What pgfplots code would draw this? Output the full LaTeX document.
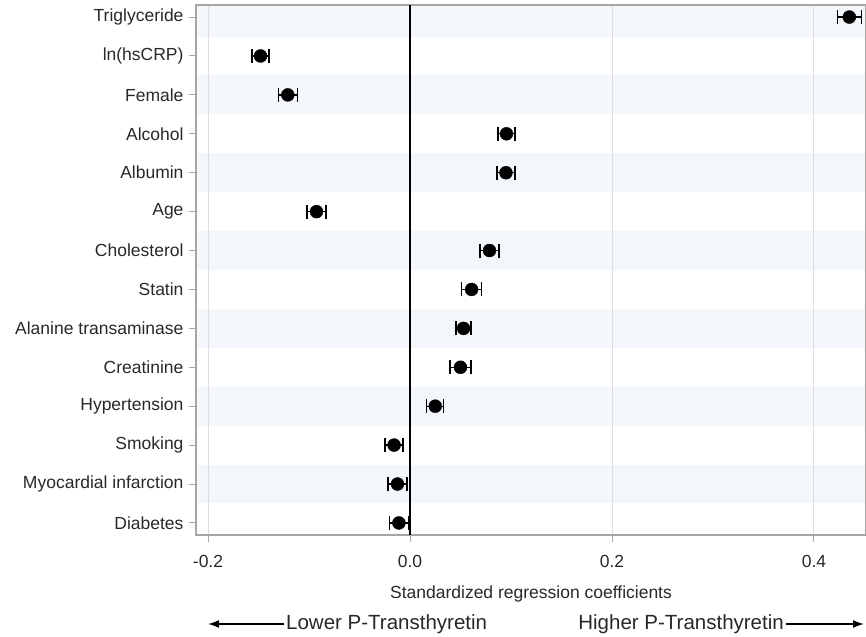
\documentclass[border=0pt]{standalone}
\usepackage{fontspec}
\setmainfont{Liberation Sans}
\usepackage{pgfplots}
\pgfplotsset{compat=1.18}
\usepackage{pgfplotstable}
\usetikzlibrary{arrows.meta}
\definecolor{band}{RGB}{243,246,250}
\definecolor{gridc}{RGB}{222,222,222}
\definecolor{axc}{RGB}{165,165,165}
\definecolor{txt}{RGB}{40,40,40}

\pgfplotstableread{
y x e
14 0.435 0.012
13 -0.148 0.0085
12 -0.121 0.0094
11 0.0955 0.0084
10 0.095 0.009
9 -0.0926 0.0094
8 0.0787 0.0094
7 0.061 0.0099
6 0.053 0.0075
5 0.050 0.0105
4 0.025 0.0085
3 -0.0158 0.0089
2 -0.0124 0.0094
1 -0.011 0.0095
}\coefdata

\begin{document}
\begin{tikzpicture}
\begin{axis}[
  set layers,
  scale only axis, width=670bp, height=530bp,
  xmin=-0.2119, xmax=0.4515, ymin=0.69, ymax=14.31,
  xtick={-0.2,0,0.2,0.4}, xticklabels={-0.2,0.0,0.2,0.4},
  ytick={1,...,14},
  yticklabels={Diabetes,Myocardial infarction,Smoking,Hypertension,Creatinine,Alanine transaminase,Statin,Cholesterol,Age,Albumin,Alcohol,Female,ln(hsCRP),Triglyceride},
  xtick pos=bottom, ytick pos=left,
  tick align=outside, major tick length=7bp,
  tick style={axc, line width=1bp},
  axis line style={axc, line width=1.2bp},
  xmajorgrids, grid style={gridc, line width=1bp},
  tick label style={font=\fontsize{17.5bp}{20bp}\selectfont, text=txt},
  yticklabel style={xshift=-2bp},
  xticklabel style={yshift=-10bp},
  xlabel={Standardized regression coefficients},
  xlabel style={font=\fontsize{17.5bp}{20bp}\selectfont, text=txt, yshift=-11bp},
]
\begin{pgfonlayer}{axis background}
\pgfplotsinvokeforeach{2,4,6,8,10,12}{
  \fill[band] (axis cs:-0.2119,#1-0.5) rectangle (axis cs:0.4515,#1+0.5);
}
\fill[band] (axis cs:-0.2119,13.5) rectangle (axis cs:0.4515,14.31);
\end{pgfonlayer}
\draw[black, line width=1.5bp] (axis cs:0,0.69) -- (axis cs:0,14.31);
\addplot[only marks, mark=*, mark size=6.5bp, black,
  error bars/.cd, x dir=both, x explicit, error mark=|,
  error bar style={line width=1.3bp, black},
  error mark options={black, line width=1.3bp, mark size=7bp}]
  table[x=x, y=y, x error=e]{\coefdata};
\end{axis}
\draw[line width=1.6bp, -{Latex[length=11bp,width=8bp]}] ([shift={(88bp,-89bp)}]current axis.south west) -- ([shift={(12bp,-89bp)}]current axis.south west);
\node[anchor=west, inner sep=0pt, text=txt, font=\fontsize{20.5bp}{23bp}\selectfont] at ([shift={(90bp,-89bp)}]current axis.south west) {Lower P-Transthyretin};
\node[anchor=east, inner sep=0pt, text=txt, font=\fontsize{20.5bp}{23bp}\selectfont] at ([shift={(588bp,-89bp)}]current axis.south west) {Higher P-Transthyretin};
\draw[line width=1.6bp, -{Latex[length=11bp,width=8bp]}] ([shift={(590bp,-89bp)}]current axis.south west) -- ([shift={(668bp,-89bp)}]current axis.south west);
\pgfresetboundingbox
\path ([shift={(-196bp,-102bp)}]current axis.south west) rectangle ([shift={(0bp,5bp)}]current axis.north east);
\end{tikzpicture}
\end{document}
